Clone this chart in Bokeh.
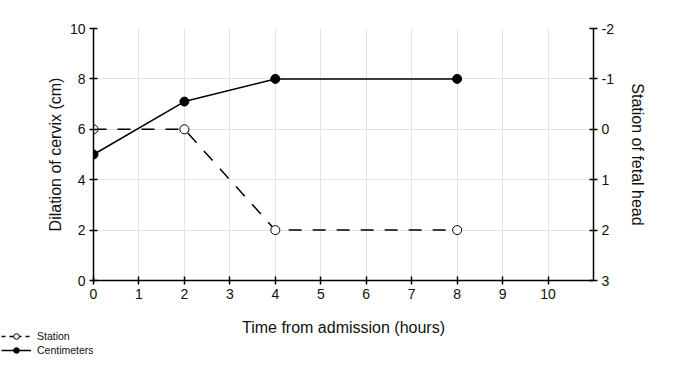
from bokeh.plotting import figure
from bokeh.layouts import column, row
from bokeh.models import (Range1d, LinearAxis, FixedTicker, Legend, LegendItem,
                          ColumnDataSource, Grid, Label)
from bokeh.embed import file_html
from bokeh.resources import INLINE

hours = [0, 2, 4, 8]
station = [0, 0, 2, 2]
centimeters = [5, 7.1, 8, 8]
x_ticks = [0, 1, 2, 3, 4, 5, 6, 7, 8, 9, 10]
left_ticks = [0, 2, 4, 6, 8, 10]
right_ticks = [-2, -1, 0, 1, 2, 3]
right_labels = ["-2", "-1", "0", "1", "2", "3"]

FONT = "Liberation Sans"

p = figure(width=685, height=312, x_range=Range1d(0, 11), y_range=Range1d(0, 10),
           output_backend="svg", toolbar_location=None,
           min_border_left=93, min_border_right=92, min_border_top=28,
           min_border_bottom=32, x_axis_location=None, y_axis_location=None)
p.extra_y_ranges = {"station": Range1d(start=3, end=-2)}
p.outline_line_color = None

xaxis = LinearAxis(ticker=FixedTicker(ticks=x_ticks))
yaxis = LinearAxis(ticker=FixedTicker(ticks=left_ticks), axis_label="Dilation of cervix (cm)")
raxis = LinearAxis(y_range_name="station", ticker=FixedTicker(ticks=right_ticks),
                   axis_label="Station of fetal head",
                   major_label_overrides={t: s for t, s in zip(right_ticks, right_labels)})
for ax in (xaxis, yaxis, raxis):
    ax.axis_line_color = "black"
    ax.axis_line_width = 1.5
    ax.major_tick_line_color = "black"
    ax.major_tick_line_width = 1.5
    ax.major_tick_out = 4
    ax.major_tick_in = 4
    ax.minor_tick_line_color = None
    ax.major_label_text_font = FONT
    ax.major_label_text_font_size = "14px"
    ax.major_label_text_color = "#111111"
    ax.axis_label_text_font = FONT
    ax.axis_label_text_font_size = "16px"
    ax.axis_label_text_font_style = "normal"
    ax.axis_label_text_color = "#111111"
    ax.major_label_standoff = 4
yaxis.axis_label_standoff = 3
raxis.axis_label_standoff = 12
p.add_layout(xaxis, "below")
p.add_layout(yaxis, "left")
p.add_layout(raxis, "right")

p.xgrid.visible = False
p.ygrid.visible = False
vg = Grid(dimension=0, ticker=FixedTicker(ticks=x_ticks[1:]), grid_line_color="#e3e3e3", grid_line_width=1)
hg = Grid(dimension=1, ticker=FixedTicker(ticks=left_ticks[1:]), grid_line_color="#e3e3e3", grid_line_width=1)
p.add_layout(vg)
p.add_layout(hg)

src_s = ColumnDataSource(dict(x=hours, y=station))
src_c = ColumnDataSource(dict(x=hours, y=centimeters))
l1 = p.line("x", "y", source=src_s, y_range_name="station", line_color="black",
            line_width=1.5, line_dash="13 11")
s1 = p.scatter("x", "y", source=src_s, y_range_name="station", size=9,
               fill_color="white", line_color="black", line_width=1)
l2 = p.line("x", "y", source=src_c, line_color="black", line_width=1.5)
s2 = p.scatter("x", "y", source=src_c, size=9, fill_color="black", line_color="black")


def strip(width):
    f = figure(width=width, height=45, output_backend="svg", toolbar_location=None,
               min_border=0, min_border_left=0, min_border_right=0,
               min_border_top=0, min_border_bottom=0,
               x_axis_location=None, y_axis_location=None,
               x_range=Range1d(0, 1), y_range=Range1d(0, 1))
    f.outline_line_color = None
    f.xgrid.visible = False
    f.ygrid.visible = False
    return f


# legend strip (samples mirror the plot's glyph styles)
leg = strip(93)
nan = float("nan")
proxy = ColumnDataSource(dict(x=[nan], y=[nan]))
ql1 = leg.line("x", "y", source=proxy, line_color="black", line_width=1.5, line_dash="4 4")
qs1 = leg.scatter("x", "y", source=proxy, size=9, fill_color="white", line_color="black", line_width=1)
ql2 = leg.line("x", "y", source=proxy, line_color="black", line_width=1.5)
qs2 = leg.scatter("x", "y", source=proxy, size=9, fill_color="black", line_color="black")
legend = Legend(items=[LegendItem(label="Station", renderers=[ql1, qs1]),
                       LegendItem(label="Centimeters", renderers=[ql2, qs2])],
                location=(1, 0), background_fill_alpha=0, border_line_alpha=0,
                padding=0, spacing=0, margin=0, glyph_width=30, glyph_height=14,
                label_height=14, label_standoff=6, label_text_font=FONT,
                label_text_font_size="10.5px", label_text_color="#111111")
leg.add_layout(legend)

# x-axis title strip, spanning the plot frame's width
tit = strip(500)
tit.x_range = Range1d(0, 11)
xtitle = Label(x=5.5, y=0.66, text="Time from admission (hours)", text_font=FONT,
               text_font_size="16px", text_align="center", text_baseline="middle",
               text_color="#111111")
tit.add_layout(xtitle)

layout = column(p, row(leg, tit, spacing=0), spacing=0)
open("out.html", "w").write(file_html(layout, INLINE))
